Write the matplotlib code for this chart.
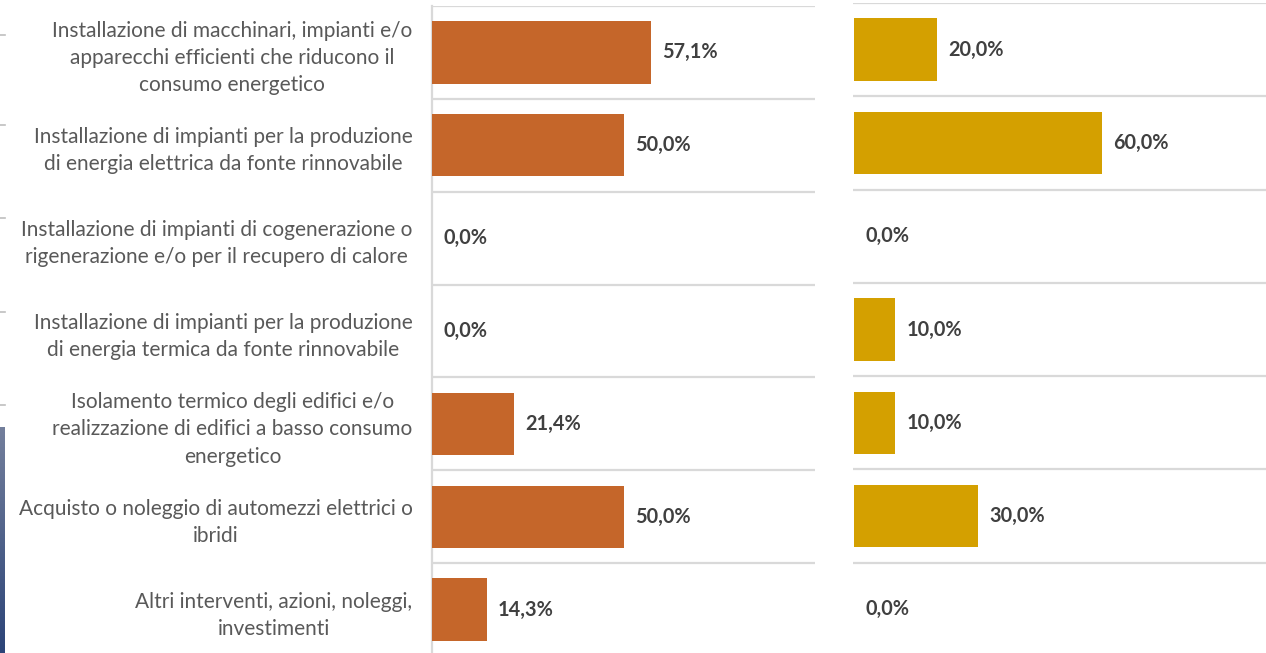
import matplotlib.pyplot as plt
import numpy as np

categories = [
    "Installazione di macchinari, impianti e/o\napparecchi efficienti che riducono il\nconsumo energetico",
    "Installazione di impianti per la produzione\ndi energia elettrica da fonte rinnovabile",
    "Installazione di impianti di cogenerazione o\nrigenerazione e/o per il recupero di calore",
    "Installazione di impianti per la produzione\ndi energia termica da fonte rinnovabile",
    "Isolamento termico degli edifici e/o\nrealizzazione di edifici a basso consumo\nenergetico",
    "Acquisto o noleggio di automezzi elettrici o\nibridi",
    "Altri interventi, azioni, noleggi,\ninvestimenti",
]
left_values = [57.1, 50.0, 0.0, 0.0, 21.4, 50.0, 14.3]
right_values = [20.0, 60.0, 0.0, 10.0, 10.0, 30.0, 0.0]

ORANGE = '#C5662A'
GOLD = '#D4A000'
GRID = '#D9D9D9'
LABEL = '#595959'
VALUE = '#404040'

plt.rcParams['font.family'] = ['Lato', 'DejaVu Sans']

W, H = 1266, 653
fig = plt.figure(figsize=(W / 100, H / 100), dpi=100)


def px_axes(x0, y_top, w, h):
    return fig.add_axes([x0 / W, (H - y_top - h) / H, w / W, h / H])


def draw_panel(ax, values, color, xmax, show_labels):
    y = np.arange(len(values))
    ax.barh(y, values, height=0.67, color=color, zorder=3)
    ax.set_xlim(0, xmax)
    ax.set_ylim(len(values) - 0.5, -0.5)
    ax.set_yticks(np.arange(-0.5, len(values)), minor=True)
    ax.grid(which='minor', axis='y', color=GRID, linewidth=1.6, zorder=0)
    ax.tick_params(which='both', length=0)
    ax.set_xticks([])
    for s in ['top', 'right', 'bottom']:
        ax.spines[s].set_visible(False)
    if show_labels:
        ax.spines['left'].set_color(GRID)
        ax.spines['left'].set_linewidth(1.6)
        ax.set_yticks(y)
        ax.set_yticklabels(categories, color=LABEL, fontsize=15,
                           multialignment='center', linespacing=1.45)
        ax.tick_params(axis='y', pad=14)
    else:
        ax.spines['left'].set_visible(False)
        ax.set_yticks([])
    for yi, v in zip(y, values):
        ax.annotate(f"{v:.1f}%".replace('.', ','), (v, yi), xytext=(8, 0),
                    textcoords='offset points', va='center', ha='left',
                    fontsize=14.3, fontweight='bold', color=VALUE)


ax1 = px_axes(432, 6, 383, 650)
draw_panel(ax1, left_values, ORANGE, 100, True)

ax2 = px_axes(853, 3, 415, 653)
draw_panel(ax2, right_values, GOLD, 100, False)
ax2.set_xlim(-0.25, 100)

# leftover bits of the neighbouring slide at the left edge
for yy in [35, 125, 218, 312, 405]:
    fig.add_artist(plt.Line2D([0, 5 / W], [1 - yy / H, 1 - yy / H],
                              color='#BFBFBF', linewidth=1.2))
strip = fig.add_axes([0, 0, 5 / W, 226 / H])
strip.imshow(np.linspace(0, 1, 100).reshape(-1, 1), aspect='auto',
             cmap=plt.matplotlib.colors.LinearSegmentedColormap.from_list(
                 'strip', ['#737F9C', '#2C4478']))
strip.axis('off')

fig.savefig('out.png', dpi=100)
